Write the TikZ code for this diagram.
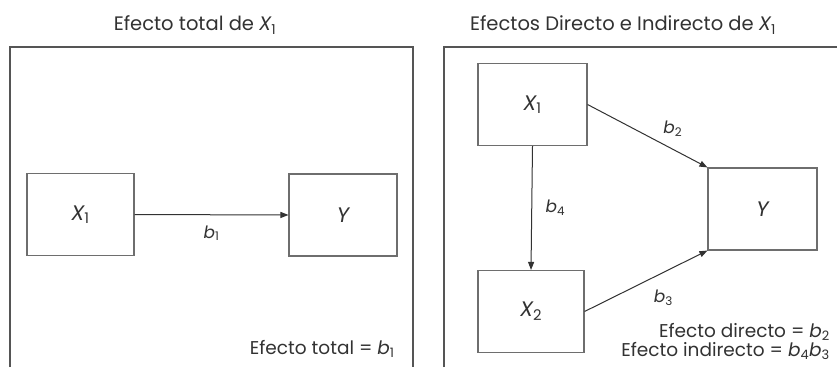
\documentclass[tikz,border=0pt]{standalone}
\usepackage{fontspec}
\setmainfont{Poppins}
\usepackage{tikz}
\usetikzlibrary{arrows.meta,positioning}
\definecolor{frameg}{RGB}{85,85,85}
\definecolor{boxg}{RGB}{110,110,110}
\definecolor{inkg}{RGB}{50,50,50}
\newcommand{\vr}[2]{{\itshape #1}\textsubscript{#2}}

\begin{document}
\begin{tikzpicture}[x=1pt, y=-1pt,
  font=\fontsize{18.5}{19}\selectfont, text=inkg,
  frame/.style={draw=frameg, line width=1.5pt},
  heading/.style={font=\fontsize{19.5}{21}\selectfont},
  varbox/.style={draw=boxg, line width=1.1pt, minimum width=#1, minimum height=82pt, inner sep=0pt, font=\fontsize{21}{23}\selectfont},
  varbox/.default=108pt,
  path/.style={-{Triangle[length=8pt,width=6pt]}, draw=inkg, line width=1pt},
  coef/.style={font=\fontsize{17}{19}\selectfont}]
  \useasboundingbox[fill=white] (0,0) rectangle (837,367);

  % Left panel: total effect
  \node[heading] (ttot) at (195,25) {Efecto total de \vr{X}{1}};
  \draw[frame] (10,367) -- (10,47) -- (413,47) -- (413,367);
  \node[varbox=107pt] (xa) at (80.5,214.5) {\vr{X}{1}};
  \node[varbox] (ya) at (343,215) {{\itshape Y}};
  \draw[path] (xa.east) -- node[coef, below=7pt] {\vr{b}{1}} (ya.west);
  \node[anchor=east] (tot) at (398,349) {Efecto total = \vr{b}{1}};

  % Right panel: direct and indirect effects
  \node[heading] (tdir) at (623,25) {Efectos Directo e Indirecto de \vr{X}{1}};
  \draw[frame] (444,367) -- (444,47) -- (837,47);
  \node[varbox=109pt] (xb) at (532.5,104.5) {\vr{X}{1}};
  \node[varbox=106pt] (xc) at (531,311.5) {\vr{X}{2}};
  \node[varbox=109pt] (yb) at (762.5,209) {{\itshape Y}};
  \draw[path] (xb.south) -- node[coef, right=10pt] {\vr{b}{4}} (xc.north);
  \draw[path] (xb.east) -- node[coef, above right=-4pt and 12pt] {\vr{b}{2}} (yb.north west);
  \draw[path] (xc.east) -- node[coef, below right=5pt and 4pt] {\vr{b}{3}} (yb.south west);
  \node[anchor=south east, align=right, inner sep=1pt] (eff) at (831,361)
    {Efecto directo = \vr{b}{2}\\Efecto indirecto = \vr{b}{4}\vr{b}{3}};
\end{tikzpicture}
\end{document}
